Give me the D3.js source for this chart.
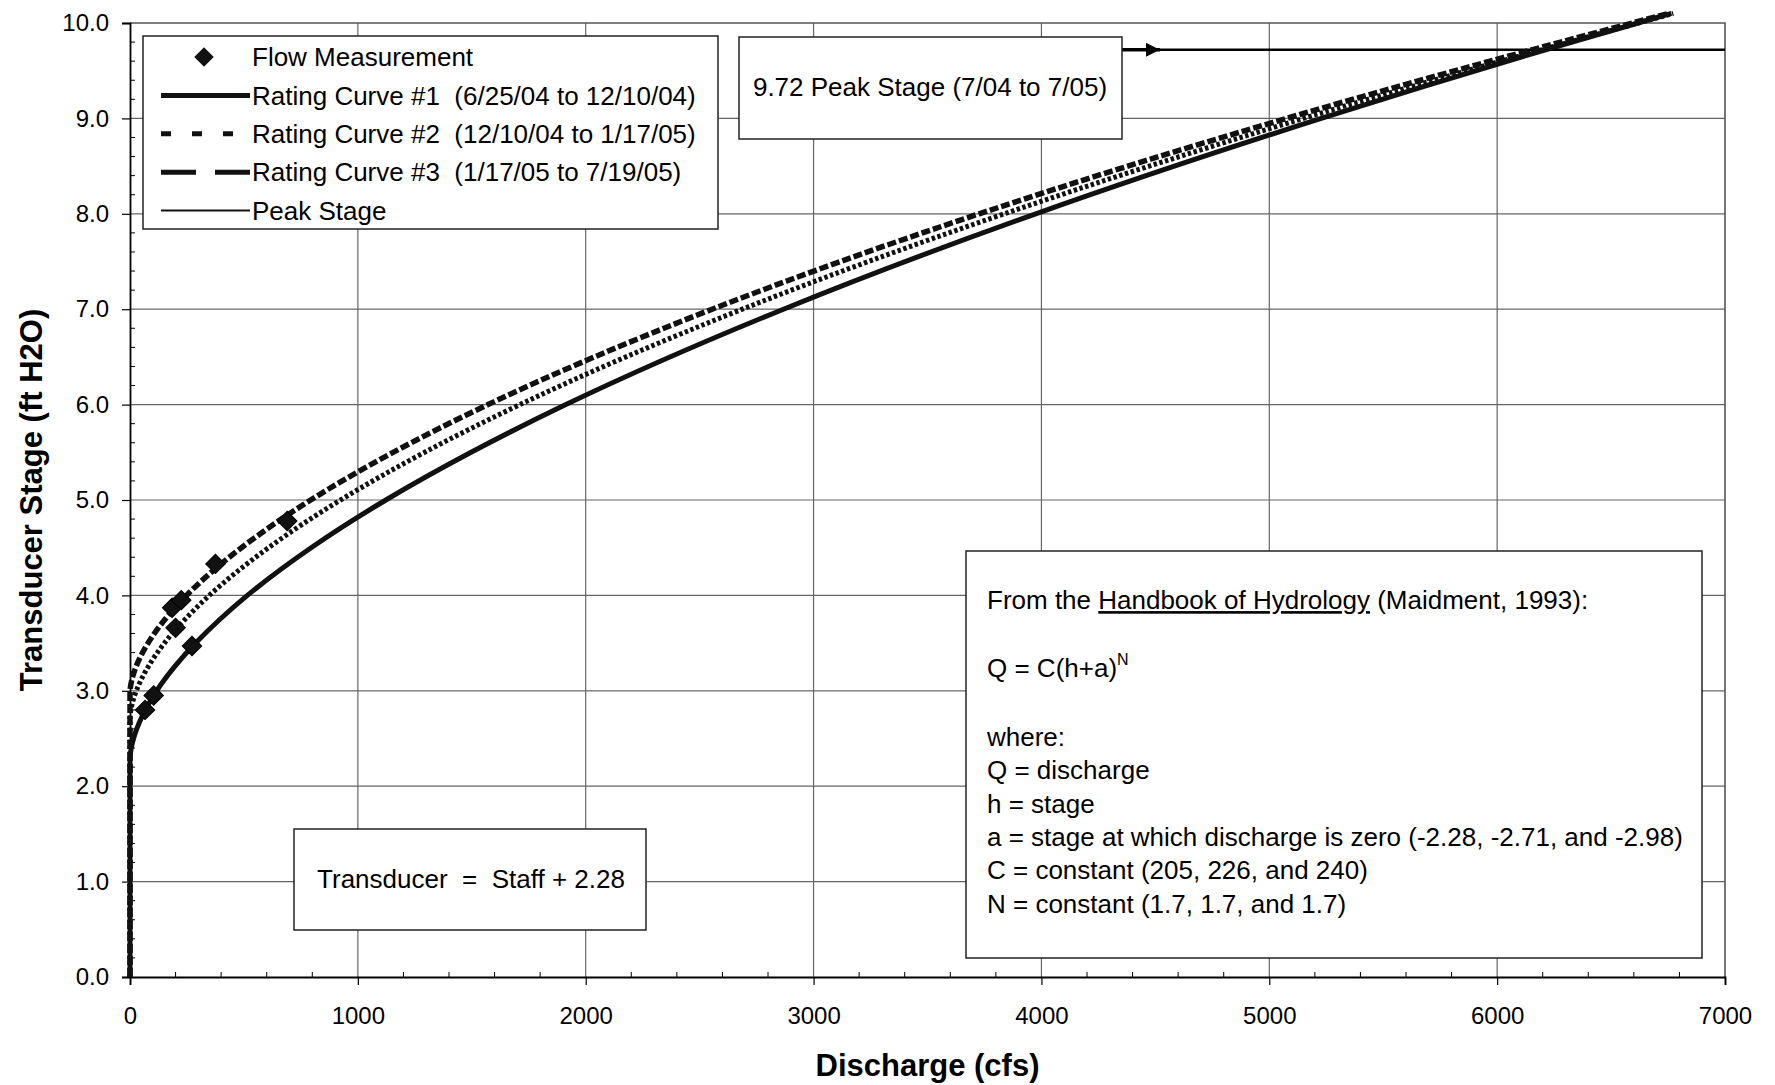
<!DOCTYPE html>
<html><head><meta charset="utf-8">
<script src="https://cdn.jsdelivr.net/npm/d3@7"></script>
<style>
html,body{margin:0;padding:0;background:#fff;}
svg{display:block;font-family:"Liberation Sans",Arial,sans-serif;}
</style></head><body>
<svg id="chart" width="1775" height="1085"></svg>
<script>
// ---------- data ----------
const xTicks = [0, 1000, 2000, 3000, 4000, 5000, 6000, 7000];
const yTicks = [0, 1, 2, 3, 4, 5, 6, 7, 8, 9, 10];

const curve1Stage = [0, 2.28, 2.3, 2.4, 2.5, 2.6, 2.75, 3.0, 3.25, 3.5, 3.75, 4.0, 4.5, 5.0, 5.5, 6.0, 7.0, 8.0, 9.0, 10.0, 10.1];
const curve1Q     = [0, 0, 0.3, 5.6, 15.6, 29.6, 56.8, 117, 195, 288, 395, 515, 795, 1123, 1497, 1913, 2868, 3975, 5228, 6618, 6765];

const curve2Stage = [0, 2.71, 2.75, 2.8, 2.85, 3.0, 3.25, 3.5, 3.75, 4.0, 4.5, 5.0, 5.5, 6.0, 7.0, 8.0, 9.0, 10.0, 10.1];
const curve2Q     = [0, 0, 1.0, 3.8, 8.0, 27.6, 79.3, 151, 242, 348, 608, 924, 1293, 1711, 2687, 3837, 5150, 6620, 6773];

const curve3Stage = [0, 2.98, 3.0, 3.05, 3.1, 3.25, 3.5, 3.75, 4.0, 4.5, 5.0, 5.5, 6.0, 7.0, 8.0, 9.0, 10.0, 10.1];
const curve3Q     = [0, 0, 0.3, 2.6, 6.5, 25.9, 79.0, 154, 248, 489, 793, 1155, 1571, 2555, 3727, 5076, 6593, 6752];

const measQ     = [66, 104, 272, 200, 185, 225, 375, 690];
const measStage = [2.80, 2.95, 3.47, 3.66, 3.87, 3.95, 4.33, 4.78];

const peakStage = 9.72;
const peakQ = [4353, 7000];
const arrowQ = [4353, 4520];

const legendLabels = [
  "Flow Measurement",
  "Rating Curve #1  (6/25/04 to 12/10/04)",
  "Rating Curve #2  (12/10/04 to 1/17/05)",
  "Rating Curve #3  (1/17/05 to 7/19/05)",
  "Peak Stage"
];
const peakBoxText = "9.72 Peak Stage (7/04 to 7/05)";
const transducerText = "Transducer  =  Staff + 2.28";

// ---------- layout ----------
const L = 130, T = 23, W = 1595, H = 954;
const svg = d3.select("#chart");
const x = d3.scaleLinear().domain([0, 7000]).range([L, L + W]);
const y = d3.scaleLinear().domain([0, 10]).range([T + H, T]);

svg.append("rect").attr("width", 1775).attr("height", 1085).attr("fill", "#fff");

const defs = svg.append("defs");
defs.append("marker").attr("id", "arrow")
  .attr("markerUnits", "userSpaceOnUse")
  .attr("markerWidth", 15).attr("markerHeight", 14)
  .attr("refX", 14).attr("refY", 7).attr("orient", "auto")
  .append("path").attr("d", "M0,0 L14,7 L0,14 Z").attr("fill", "#000");

// gridlines
const grid = svg.append("g");
grid.selectAll(".gx").data(xTicks.filter(d => d > 0 && d < 7000)).enter().append("line")
  .attr("x1", d => x(d)).attr("x2", d => x(d)).attr("y1", y(0)).attr("y2", y(10))
  .attr("stroke", "#666").attr("stroke-width", 1.2);
grid.selectAll(".gy").data(yTicks.filter(d => d > 0 && d < 10)).enter().append("line")
  .attr("y1", d => y(d)).attr("y2", d => y(d)).attr("x1", x(0)).attr("x2", x(7000))
  .attr("stroke", "#666").attr("stroke-width", 1.2);
// plot border top/right
svg.append("path").attr("d", `M${x(0)},${y(10)} H${x(7000)} V${y(0)}`)
  .attr("fill", "none").attr("stroke", "#555").attr("stroke-width", 1.6);

// axes
const xAxis = d3.axisBottom(x).tickValues(xTicks).tickSize(8).tickPadding(22).tickFormat(d3.format("d"));
const gx = svg.append("g").attr("transform", `translate(0,${y(0)})`).call(xAxis);
const yAxis = d3.axisLeft(y).tickValues(yTicks).tickSize(8).tickPadding(13).tickFormat(d3.format(".1f"));
const gy = svg.append("g").attr("transform", `translate(${x(0)},0)`).call(yAxis);
[gx, gy].forEach(g => {
  g.select(".domain").attr("stroke", "#000").attr("stroke-width", 1.8);
  g.selectAll(".tick line").attr("stroke", "#000").attr("stroke-width", 1.2);
  g.selectAll("text").attr("font-size", 24).attr("fill", "#000")
    .attr("font-family", '"Liberation Sans",Arial,sans-serif');
});
// minor ticks (inside)
const minorX = d3.range(200, 7000, 200).filter(d => d % 1000 !== 0);
svg.append("g").selectAll("line").data(minorX).enter().append("line")
  .attr("x1", d => x(d)).attr("x2", d => x(d)).attr("y1", y(0)).attr("y2", y(0) - 5)
  .attr("stroke", "#000").attr("stroke-width", 1);
const minorY = d3.range(2, 100, 2).filter(d => d % 10 !== 0).map(d => d / 10);
svg.append("g").selectAll("line").data(minorY).enter().append("line")
  .attr("y1", d => y(d)).attr("y2", d => y(d)).attr("x1", x(0)).attr("x2", x(0) + 5)
  .attr("stroke", "#000").attr("stroke-width", 1);

// axis titles
svg.append("text").attr("x", x(3500)).attr("y", 1076).attr("text-anchor", "middle")
  .attr("font-size", 31).attr("font-weight", "bold").text("Discharge (cfs)");
svg.append("text").attr("transform", `translate(31,${y(5)}) rotate(-90)`).attr("dy", "0.35em")
  .attr("text-anchor", "middle").attr("font-size", 31).attr("font-weight", "bold")
  .text("Transducer Stage (ft H2O)");

// peak stage line
const line = d3.line().x(d => x(d[0])).y(d => y(d[1]));
svg.append("path").datum(peakQ.map(q => [q, peakStage])).attr("d", line)
  .attr("fill", "none").attr("stroke", "#000").attr("stroke-width", 2.4);
svg.append("path").datum(arrowQ.map(q => [q, peakStage])).attr("d", line)
  .attr("fill", "none").attr("stroke", "#000").attr("stroke-width", 3.5)
  .attr("marker-end", "url(#arrow)");

// rating curves
const cl = d3.line().x(d => x(d[0])).y(d => y(d[1])).curve(d3.curveMonotoneY);
const curves = [
  {q: curve1Q, s: curve1Stage, dash: null, w: 5},
  {q: curve2Q, s: curve2Stage, dash: "3.5,2.5", w: 5},
  {q: curve3Q, s: curve3Stage, dash: "9,3", w: 5.5}
];
curves.slice().reverse().forEach(c => {
  svg.append("path").datum(c.q.map((q, i) => [q, c.s[i]])).attr("d", cl)
    .attr("fill", "none").attr("stroke", "#111").attr("stroke-width", c.w)
    .attr("stroke-dasharray", c.dash);
});

// measurements
const diamond = d3.symbol().type(d3.symbolSquare).size(190);
svg.append("g").selectAll("path").data(measQ.map((q, i) => [q, measStage[i]])).enter().append("path")
  .attr("d", diamond)
  .attr("transform", d => `translate(${x(d[0])},${y(d[1])}) rotate(45)`)
  .attr("fill", "#111").attr("stroke", "#000").attr("stroke-width", 1);

// legend
const lg = svg.append("g");
lg.append("rect").attr("x", 143).attr("y", 36).attr("width", 575).attr("height", 193)
  .attr("fill", "#fff").attr("stroke", "#222").attr("stroke-width", 1.5);
const rowY = i => 57 + i * 38.4;
lg.append("path").attr("d", diamond)
  .attr("transform", `translate(204,${rowY(0)}) rotate(45)`).attr("fill", "#111");
const legStyles = [null, {dash: null, w: 5}, {dash: "10,21", w: 5}, {dash: "35,19", w: 5}, {dash: null, w: 2}];
legStyles.forEach((s, i) => {
  if (!s) return;
  lg.append("line").attr("x1", 161).attr("x2", 250).attr("y1", rowY(i)).attr("y2", rowY(i))
    .attr("stroke", "#111").attr("stroke-width", s.w).attr("stroke-dasharray", s.dash);
});
lg.selectAll("text").data(legendLabels).enter().append("text")
  .attr("x", 252).attr("y", (d, i) => rowY(i)).attr("dy", "0.35em")
  .attr("font-size", 26).style("white-space", "pre").text(d => d);

// peak annotation box
svg.append("rect").attr("x", 739).attr("y", 37).attr("width", 383).attr("height", 102)
  .attr("fill", "#fff").attr("stroke", "#222").attr("stroke-width", 1.5);
svg.append("text").attr("x", 930).attr("y", 87).attr("dy", "0.35em").attr("text-anchor", "middle")
  .attr("font-size", 26).text(peakBoxText);

// transducer box
svg.append("rect").attr("x", 294).attr("y", 829).attr("width", 352).attr("height", 101)
  .attr("fill", "#fff").attr("stroke", "#222").attr("stroke-width", 1.5);
svg.append("text").attr("x", 471).attr("y", 879).attr("dy", "0.35em").attr("text-anchor", "middle")
  .attr("font-size", 26).style("white-space", "pre").text(transducerText);

// equation box
svg.append("rect").attr("x", 966).attr("y", 551).attr("width", 736).attr("height", 407)
  .attr("fill", "#fff").attr("stroke", "#222").attr("stroke-width", 1.5);
const eq = svg.append("g").attr("font-size", 26);
const t0 = eq.append("text").attr("x", 987).attr("y", 600).attr("dy", "0.35em");
t0.append("tspan").text("From the ");
t0.append("tspan").attr("text-decoration", "underline").text("Handbook of Hydrology");
t0.append("tspan").text(" (Maidment, 1993):");
const t1 = eq.append("text").attr("x", 987).attr("y", 668).attr("dy", "0.35em");
t1.append("tspan").text("Q = C(h+a)");
t1.append("tspan").attr("font-size", 16).attr("dy", "-0.75em").text("N");
const eqLines = [
  "where:",
  "Q = discharge",
  "h = stage",
  "a = stage at which discharge is zero (-2.28, -2.71, and -2.98)",
  "C = constant (205, 226, and 240)",
  "N = constant (1.7, 1.7, and 1.7)"
];
eq.selectAll(".ln").data(eqLines).enter().append("text")
  .attr("x", 987).attr("y", (d, i) => 737 + i * 33.3).attr("dy", "0.35em").text(d => d);
</script>
</body></html>
